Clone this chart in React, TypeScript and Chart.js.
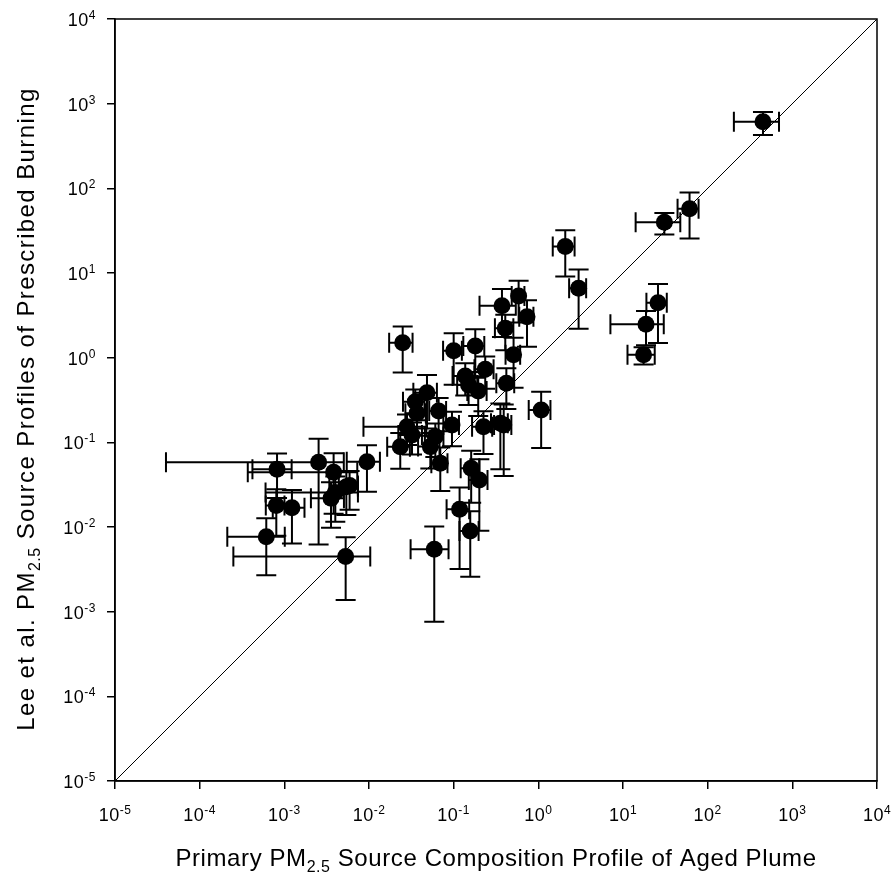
import React, { useEffect, useRef } from "react";
import { Chart, registerables } from "chart.js";

Chart.register(...registerables);

// ---- data ----
const xValues = [
  450, 61.1, 30.8, 2.08, 2.99, 25.9, 18.7, 17.5,
  0.585, 0.372, 0.735, 0.407, 0.51, 0.18, 0.1, 0.025, 0.236, 0.137, 0.15, 0.195, 0.419,
  0.0484, 0.0352, 0.0369, 0.0664, 0.0281, 0.0234, 0.0607, 0.0695, 0.0955, 0.225, 0.356, 0.39,
  1.08, 0.161, 0.201, 0.1175, 0.157, 0.059, 0.053, 0.0322,
  8.2e-4, 2.54e-3, 3.82e-3, 9.46e-3, 8.04e-4, 1.23e-3, 6.12e-4, 5.3e-3, 3.56e-3, 4.0e-3, 5.4e-3, 5.9e-3,
];
const yValues = [
  613, 57.5, 39.7, 20.5, 6.6, 4.46, 2.48, 1.08,
  5.35, 4.11, 3.05, 2.22, 1.08, 1.37, 1.21, 1.5, 0.73, 0.608, 0.476, 0.404, 0.498,
  0.386, 0.302, 0.22, 0.235, 0.153, 0.0889, 0.117, 0.0566, 0.16, 0.153, 0.168, 0.16,
  0.241, 0.0494, 0.036, 0.0162, 0.00898, 0.00546, 0.089, 0.122,
  0.048, 0.0582, 0.0443, 0.0591, 0.0179, 0.0169, 7.69e-3, 4.47e-3, 0.0218, 0.0255, 0.0299, 0.031,
];
const xErrors = [
  246, 17, 16.7, 0.6, 0.68, 7, 11.6, 6.2,
  0.1, 0.17, 0.14, 0.1, 0.1, 0.05, 0.025, 0.0077, 0.06, 0.04, 0.04, 0.05, 0.1,
  0.015, 0.01, 0.01, 0.015, 0.0195, 0.007, 0.015, 0.015, 0.02, 0.06, 0.08, 0.09,
  0.31, 0.04, 0.05, 0.035, 0.04, 0.028, 0.015, 0.01,
  4e-4, 2.5e-3, 3.45e-3, 4e-3, 2e-4, 5e-4, 4e-4, 5.05e-3, 1.5e-3, 3.4e-3, 2e-3, 1.5e-3,
];
const yErrors = [
  186, 32, 11.3, 11.4, 4.4, 2.97, 1.08, 0.25,
  2.75, 2.36, 1.7, 1.0, 0.64, 0.79, 0.73, 0.83, 0.3, 0.25, 0.2, 0.2, 0.25,
  0.24, 0.12, 0.1, 0.1, 0.06, 0.04, 0.05, 0.03, 0.07, 0.08, 0.12, 0.12,
  0.155, 0.03, 0.027, 0.013, 0.0064, 0.0047, 0.04, 0.05,
  0.026, 0.052, 0.03, 0.033, 0.01, 0.0105, 5e-3, 3.1e-3, 0.012, 0.014, 0.016, 0.015,
];
const decadeTicks = [1e-5, 1e-4, 1e-3, 1e-2, 1e-1, 1e0, 1e1, 1e2, 1e3, 1e4];
const tickExponents = ["-5", "-4", "-3", "-2", "-1", "0", "1", "2", "3", "4"];
const identityLine = [1e-5, 1e4];
const xTitleParts = ["Primary PM", "2.5", " Source Composition Profile of Aged Plume"];
const yTitleParts = ["Lee et al. PM", "2.5", " Source Profiles of Prescribed Burning"];

const FONT = '"Liberation Sans", Arial, sans-serif';
const TICK_SIZE = 18;
const SUP_SIZE = 12;
const TITLE_SIZE = 24;
const SUB_SIZE = 16;

function setSpacing(ctx: any, px: number) {
  if ("letterSpacing" in ctx) ctx.letterSpacing = `${px}px`;
}

function powerLabel(ctx: CanvasRenderingContext2D, exp: string, x: number, baseline: number, align: "right" | "center") {
  setSpacing(ctx, 0.5);
  ctx.font = `${TICK_SIZE}px ${FONT}`;
  const bw = ctx.measureText("10").width;
  ctx.font = `${SUP_SIZE}px ${FONT}`;
  const ew = ctx.measureText(exp).width;
  const total = bw + ew;
  const start = align === "right" ? x - total : x - total / 2;
  ctx.textAlign = "left";
  ctx.textBaseline = "alphabetic";
  ctx.font = `${TICK_SIZE}px ${FONT}`;
  ctx.fillText("10", start, baseline);
  ctx.font = `${SUP_SIZE}px ${FONT}`;
  ctx.fillText(exp, start + bw, baseline - 7);
  setSpacing(ctx, 0);
}

function subTitle(ctx: CanvasRenderingContext2D, parts: string[], cx: number, baseline: number, sp: number) {
  setSpacing(ctx, sp);
  ctx.font = `${TITLE_SIZE}px ${FONT}`;
  const w0 = ctx.measureText(parts[0]).width;
  const w2 = ctx.measureText(parts[2]).width;
  setSpacing(ctx, 0.5);
  ctx.font = `${SUB_SIZE}px ${FONT}`;
  const w1 = ctx.measureText(parts[1]).width;
  const total = w0 + w1 + w2;
  let x = cx - total / 2;
  ctx.textAlign = "left";
  ctx.textBaseline = "alphabetic";
  setSpacing(ctx, sp);
  ctx.font = `${TITLE_SIZE}px ${FONT}`;
  ctx.fillText(parts[0], x, baseline);
  x += w0;
  setSpacing(ctx, 0.5);
  ctx.font = `${SUB_SIZE}px ${FONT}`;
  ctx.fillText(parts[1], x, baseline + 6);
  x += w1;
  setSpacing(ctx, sp);
  ctx.font = `${TITLE_SIZE}px ${FONT}`;
  ctx.fillText(parts[2], x, baseline);
  setSpacing(ctx, 0);
}

const errorBarPlugin = {
  id: "errorBars",
  beforeDatasetsDraw(chart: any) {
    const { ctx, chartArea, scales } = chart;
    const xs = scales.x;
    const ys = scales.y;
    ctx.save();
    ctx.beginPath();
    ctx.rect(chartArea.left, chartArea.top, chartArea.width, chartArea.height);
    ctx.clip();
    ctx.strokeStyle = "#000";
    ctx.lineWidth = 2;
    const cap = 10;
    for (let i = 0; i < xValues.length; i++) {
      const px = xs.getPixelForValue(xValues[i]);
      const py = ys.getPixelForValue(yValues[i]);
      const xlo = xs.getPixelForValue(Math.max(xValues[i] - xErrors[i], 1e-7));
      const xhi = xs.getPixelForValue(xValues[i] + xErrors[i]);
      const ylo = ys.getPixelForValue(Math.max(yValues[i] - yErrors[i], 1e-7));
      const yhi = ys.getPixelForValue(yValues[i] + yErrors[i]);
      ctx.beginPath();
      ctx.moveTo(xlo, py); ctx.lineTo(xhi, py);
      ctx.moveTo(xlo, py - cap); ctx.lineTo(xlo, py + cap);
      ctx.moveTo(xhi, py - cap); ctx.lineTo(xhi, py + cap);
      ctx.moveTo(px, ylo); ctx.lineTo(px, yhi);
      ctx.moveTo(px - cap, ylo); ctx.lineTo(px + cap, ylo);
      ctx.moveTo(px - cap, yhi); ctx.lineTo(px + cap, yhi);
      ctx.stroke();
    }
    ctx.restore();
  },
  afterDraw(chart: any) {
    const { ctx, chartArea, scales } = chart;
    const xs = scales.x;
    const ys = scales.y;
    ctx.save();
    ctx.strokeStyle = "#000";
    ctx.lineWidth = 1.5;
    ctx.strokeRect(chartArea.left, chartArea.top, chartArea.width, chartArea.height);
    ctx.fillStyle = "#000";
    decadeTicks.forEach((v, i) => {
      const py = ys.getPixelForValue(v);
      powerLabel(ctx, tickExponents[i], chartArea.left - 19, py + 7, "right");
      const px = xs.getPixelForValue(v);
      powerLabel(ctx, tickExponents[i], px, chartArea.bottom + 40, "center");
    });
    subTitle(ctx, xTitleParts, (chartArea.left + chartArea.right) / 2, 866, 0.6);
    ctx.save();
    ctx.translate(34, (chartArea.top + chartArea.bottom) / 2 + 9);
    ctx.rotate(-Math.PI / 2);
    subTitle(ctx, yTitleParts, 0, 0, 1.4);
    ctx.restore();
    ctx.restore();
  },
};

const axisCommon = {
  type: "logarithmic" as const,
  min: 1e-5,
  max: 1e4,
  afterBuildTicks: (s: any) => {
    s.ticks = decadeTicks.map((v) => ({ value: v }));
  },
  ticks: { display: false },
  grid: { drawOnChartArea: false, drawTicks: true, tickLength: 8, color: "#000", lineWidth: 1.5 },
  border: { display: true, color: "#000", width: 1.5 },
};

export default function App() {
  const ref = useRef<HTMLCanvasElement | null>(null);
  useEffect(() => {
    if (!ref.current) return;
    const chart = new Chart(ref.current, {
      type: "scatter",
      data: {
        datasets: [
          {
            data: xValues.map((x, i) => ({ x, y: yValues[i] })),
            backgroundColor: "#000",
            borderWidth: 0,
            pointRadius: 8.5,
            pointHoverRadius: 8.5,
          },
          {
            data: identityLine.map((v) => ({ x: v, y: v })),
            showLine: true,
            borderColor: "#000",
            borderWidth: 1,
            pointRadius: 0,
          },
        ],
      },
      options: {
        animation: false,
        responsive: true,
        maintainAspectRatio: false,
        layout: { padding: { top: 19, right: 18, left: 0, bottom: 0 } },
        plugins: { legend: { display: false }, tooltip: { enabled: false } },
        scales: {
          x: { ...axisCommon, afterFit: (s: any) => { s.height = 95; } },
          y: { ...axisCommon, afterFit: (s: any) => { s.width = 115; } },
        },
      },
      plugins: [errorBarPlugin],
    });
    return () => chart.destroy();
  }, []);
  return (
    <div style={{ position: "absolute", left: 0, top: 0, width: 895, height: 876, background: "#fff" }}>
      <canvas ref={ref} />
    </div>
  );
}
